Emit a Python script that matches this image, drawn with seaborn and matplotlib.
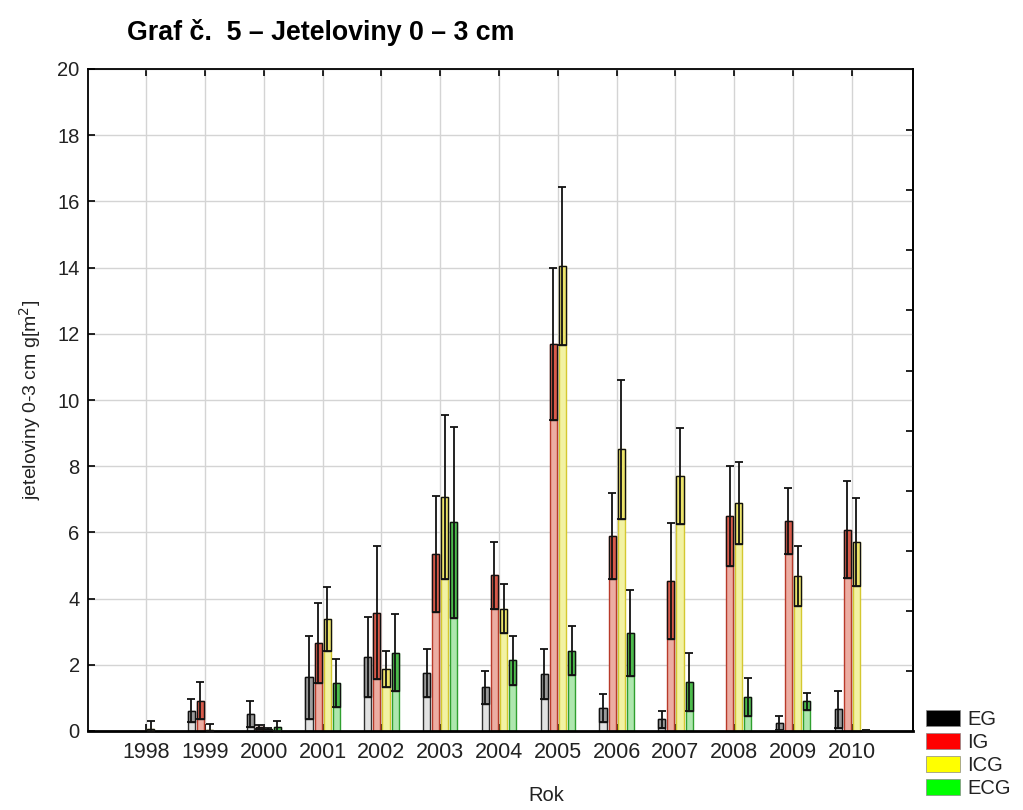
import numpy as np
import pandas as pd
import matplotlib
matplotlib.use("Agg")
import matplotlib.pyplot as plt
from matplotlib.patches import Patch
import seaborn as sns

years = [1998, 1999, 2000, 2001, 2002, 2003, 2004, 2005, 2006, 2007, 2008, 2009, 2010]
groups = ["EG", "IG", "ICG", "ECG"]
EG_mean = [0.0, 0.61, 0.51, 1.62, 2.23, 1.76, 1.32, 1.72, 0.69, 0.35, 0.0, 0.24, 0.65]
EG_err = [0.0, 0.35, 0.40, 1.25, 1.20, 0.72, 0.50, 0.76, 0.42, 0.25, 0.0, 0.20, 0.55]
IG_mean = [0.0, 0.92, 0.12, 2.67, 3.58, 5.36, 4.70, 11.70, 5.88, 4.53, 6.50, 6.34, 6.08]
IG_err = [0.0, 0.55, 0.05, 1.21, 2.00, 1.75, 1.00, 2.30, 1.30, 1.75, 1.50, 1.00, 1.46]
ICG_mean = [0.07, 0.03, 0.05, 3.38, 1.87, 7.07, 3.69, 14.05, 8.51, 7.70, 6.89, 4.68, 5.70]
ICG_err = [0.23, 0.17, 0.03, 0.96, 0.55, 2.47, 0.74, 2.40, 2.10, 1.45, 1.25, 0.90, 1.33]
ECG_mean = [0.0, 0.0, 0.12, 1.46, 2.37, 6.30, 2.13, 2.43, 2.96, 1.47, 1.02, 0.90, 0.02]
ECG_err = [0.0, 0.0, 0.18, 0.72, 1.16, 2.88, 0.74, 0.75, 1.30, 0.88, 0.58, 0.26, 0.02]

means = {"EG": EG_mean, "IG": IG_mean, "ICG": ICG_mean, "ECG": ECG_mean}
errs = {"EG": EG_err, "IG": IG_err, "ICG": ICG_err, "ECG": ECG_err}

light = {"EG": "#e2e2e2", "IG": "#f8a496", "ICG": "#ffff96", "ECG": "#a4f0a4"}
edge = {"EG": "#303030", "IG": "#b83a2a", "ICG": "#d4c830", "ECG": "#2f9f2f"}
dark = {"EG": "#9a9a9a", "IG": "#d85a4a", "ICG": "#ece46a", "ECG": "#4cbc4c"}
legend_col = {"EG": "#000000", "IG": "#ff0000", "ICG": "#ffff00", "ECG": "#00ff00"}

rows = []
for g in groups:
    for y, m, e in zip(years, means[g], errs[g]):
        rows.append({"Rok": str(y), "group": g, "mean": m, "err": e})
df = pd.DataFrame(rows)

sns.set_style("white")
plt.rcParams["font.family"] = ["Liberation Sans", "DejaVu Sans"]
plt.rcParams["text.color"] = "#222222"
plt.rcParams["xtick.color"] = "black"
plt.rcParams["ytick.color"] = "black"
plt.rcParams["xtick.labelcolor"] = "#222222"
plt.rcParams["ytick.labelcolor"] = "#222222"
plt.rcParams["axes.labelcolor"] = "#222222"

fig = plt.figure(figsize=(10.23, 8.10), dpi=100)
ax = fig.add_axes([88/1023, 1-731/810, (913-88)/1023, (731-69)/810])

sns.barplot(data=df, x="Rok", y="mean", hue="group", hue_order=groups,
            palette=light, width=0.62, gap=0.22, errorbar=None,
            linewidth=1.0, legend=False, ax=ax, zorder=2)

for cont, g in zip(ax.containers, groups):
    for patch in cont:
        patch.set_edgecolor(edge[g])
    xs = np.array([p.get_x() + p.get_width()/2 for p in cont])
    w = cont[0].get_width()
    m = np.array(means[g])
    e = np.array(errs[g])
    low = np.clip(m - e, 0, None)
    show = e > 0
    ax.bar(xs[show], (m - low)[show], bottom=low[show], width=w,
           color=dark[g], edgecolor="#111111", linewidth=1.0, zorder=3)
    ax.errorbar(xs[show], m[show], yerr=[(m - low)[show], e[show]], fmt="none",
                ecolor="#111111", elinewidth=1.3, capsize=3, capthick=1.3, zorder=4)

ax.set_ylim(0, 20)
ax.set_xlim(-0.99, 13.04)
ax.set_yticks(np.arange(0, 21, 2))
ax.grid(True, color="#d4d4d4", linewidth=1.0, zorder=0)
ax.set_axisbelow(True)
for s in ax.spines.values():
    s.set_color("black")
    s.set_linewidth(1.3)
ax.spines["bottom"].set_linewidth(2.0)

ax.tick_params(axis="y", labelsize=14.5, direction="in", length=5, width=1.2, left=True, pad=6)
ax.tick_params(axis="x", labelsize=15.5, direction="in", length=5, width=1.2,
               bottom=True, top=True, pad=8)

sec = ax.secondary_yaxis("right", functions=(lambda v: v*11.02/20, lambda v: v*20/11.02))
sec.set_yticks(np.arange(1, 11))
sec.set_yticklabels([])
sec.tick_params(direction="in", length=5, width=1.2)
sec.spines["right"].set_linewidth(1.3)

ax.set_xlabel("Rok", fontsize=14.5)
ax.xaxis.set_label_coords((546-88)/825, (731-786)/662)
ax.set_ylabel("jeteloviny 0-3 cm g[m$^2$]", fontsize=14, va="center")
ax.yaxis.set_label_coords((30-88)/825, 0.5)

fig.text(127/1023, 1-33/810, "Graf č.  5 – Jeteloviny 0 – 3 cm", fontsize=19.3,
         fontweight="bold", va="center", ha="left", color="black")

handles = [Patch(facecolor=legend_col[g], edgecolor="#888888", linewidth=0.5, label=g) for g in groups]
fig.legend(handles=handles, loc="lower left", bbox_to_anchor=(922/1023, 8/810),
           frameon=False, fontsize=14.5, handlelength=1.7, handleheight=0.82,
           labelspacing=0.2, handletextpad=0.35, borderpad=0.2, borderaxespad=0)

fig.savefig("out.png", dpi=100)
